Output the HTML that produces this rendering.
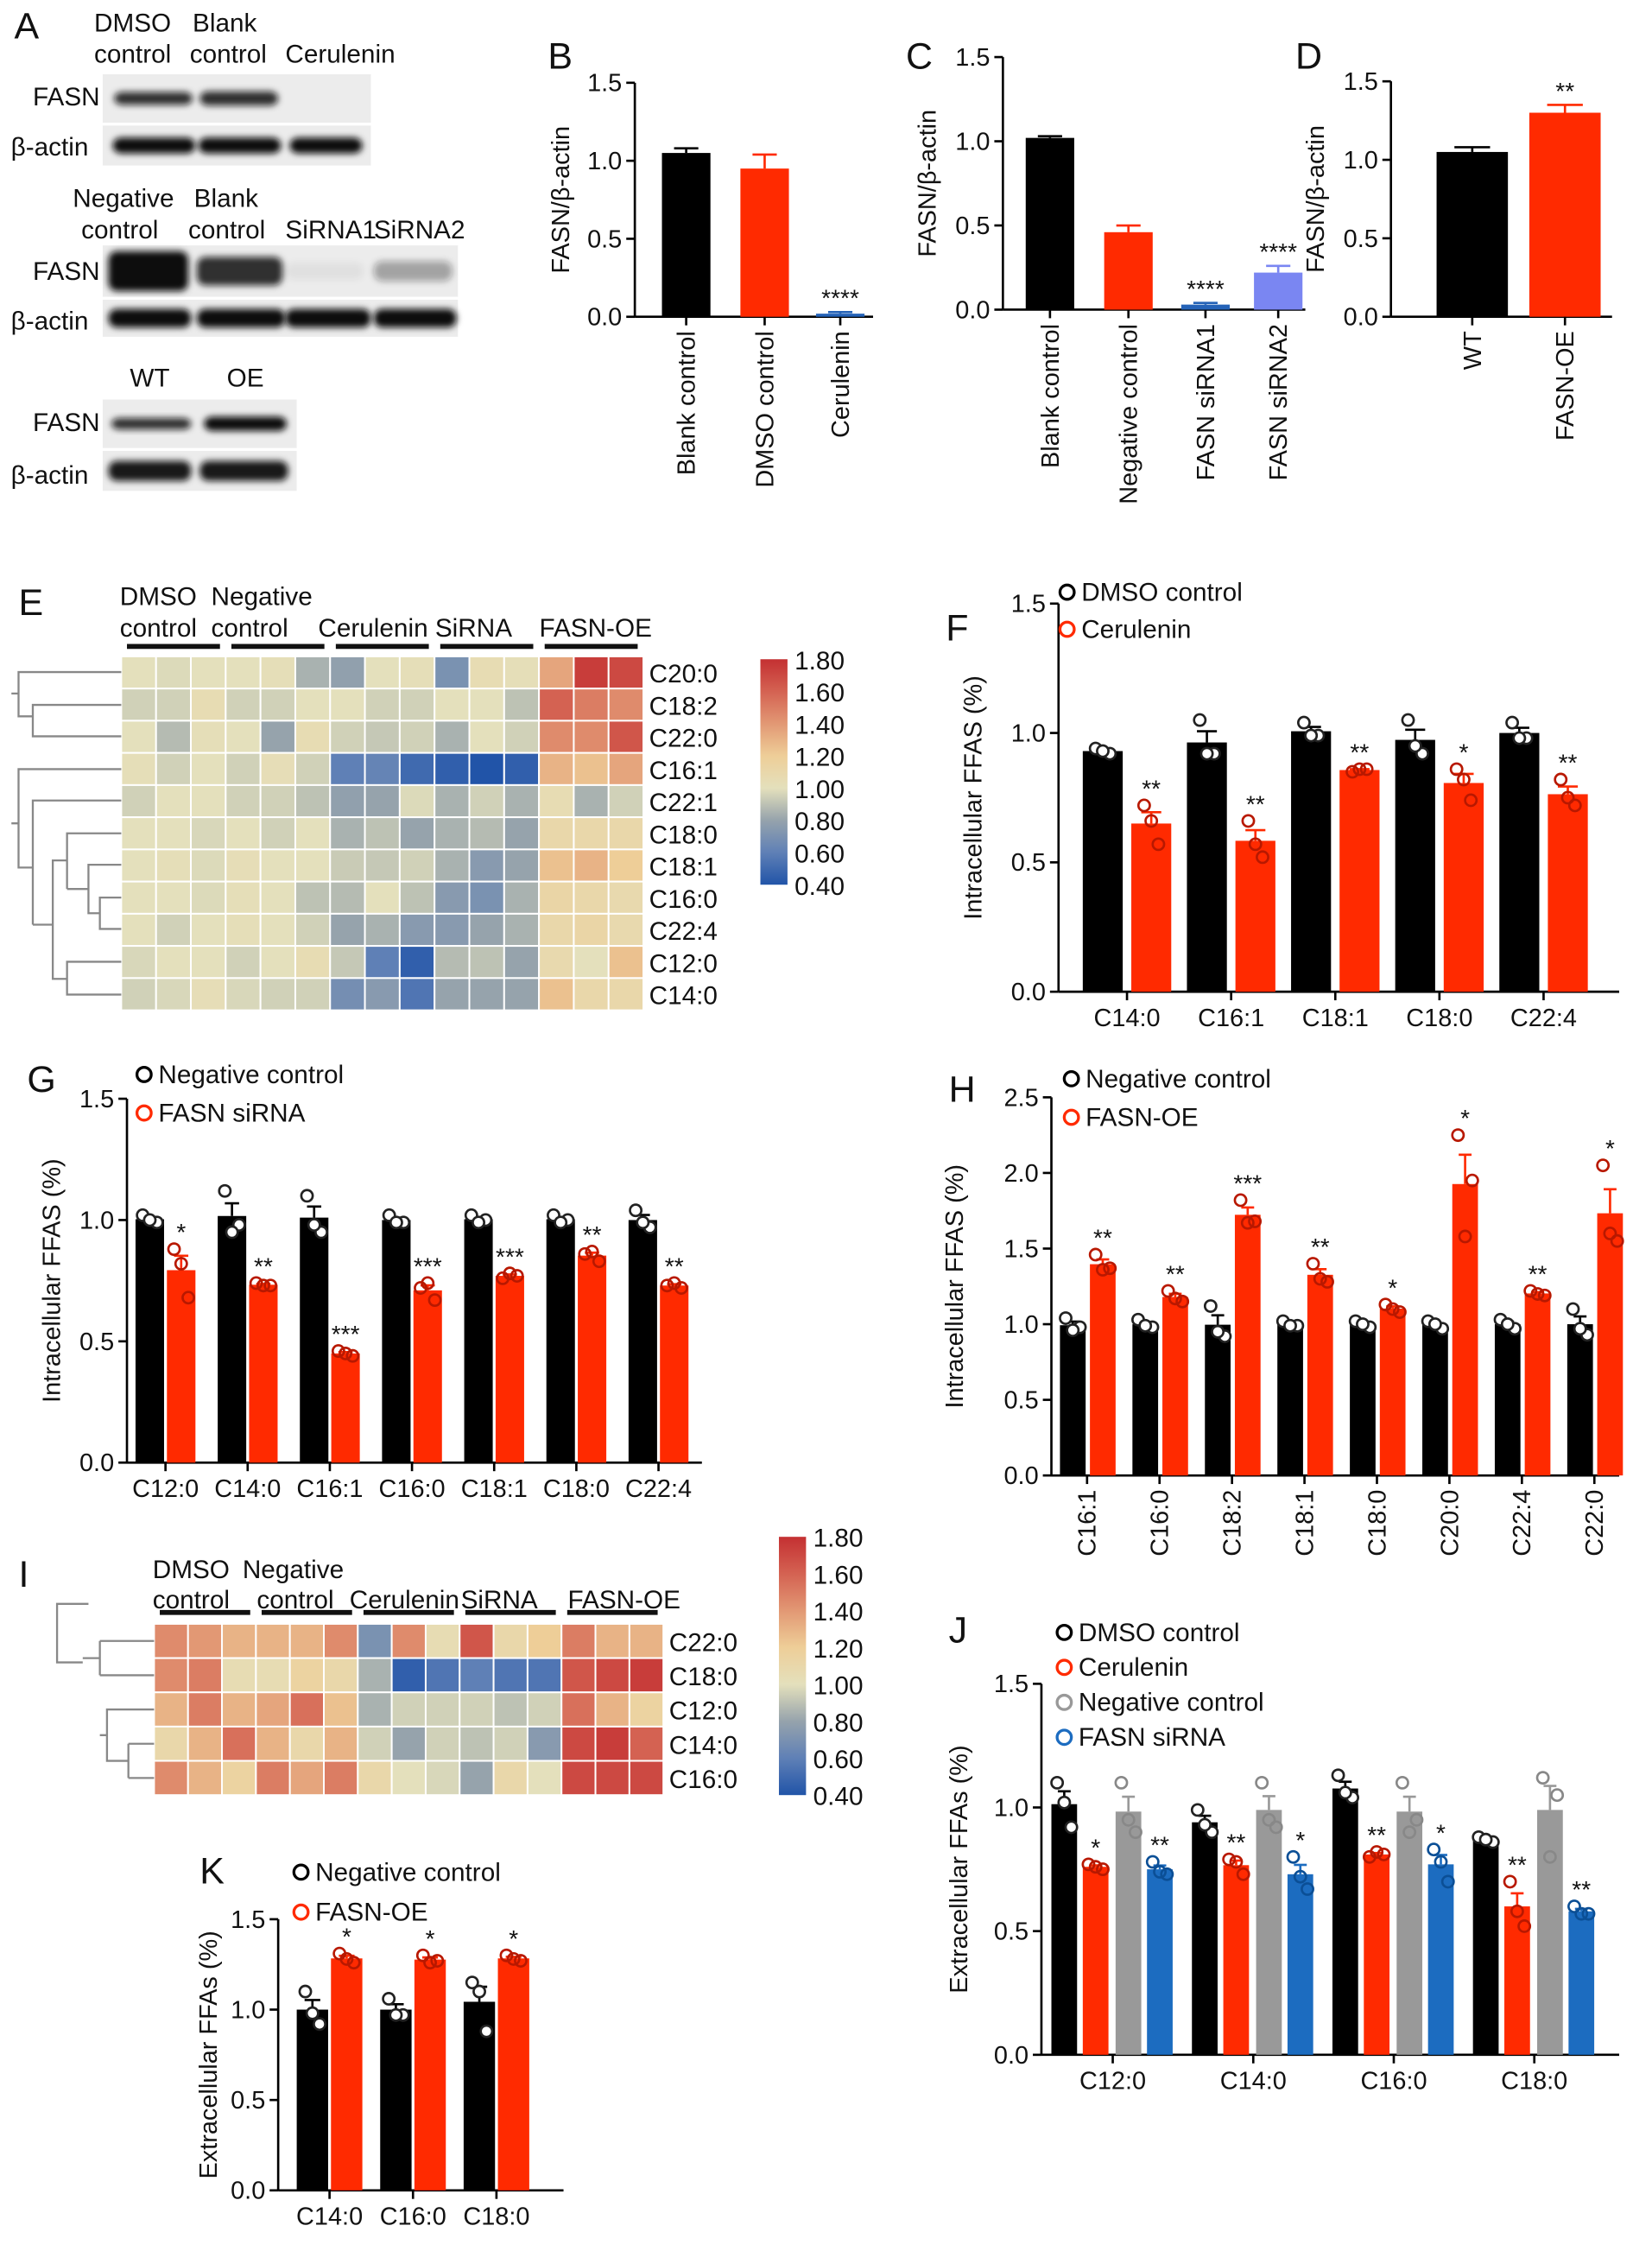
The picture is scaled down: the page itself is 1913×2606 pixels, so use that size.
<!DOCTYPE html>
<html><head><meta charset="utf-8"><style>
html,body{margin:0;padding:0;background:#fff;}
svg{display:block;font-family:"Liberation Sans",Arial,sans-serif;}
</style></head><body>
<svg id="fig" xmlns="http://www.w3.org/2000/svg" width="1913" height="2606" viewBox="0 0 1158 1577.5" preserveAspectRatio="none">
<defs><filter id="blur" x="-20%" y="-50%" width="140%" height="200%"><feGaussianBlur stdDeviation="2.2"/></filter></defs>
</svg>
<script>
// ---------- data ----------
const bCats = ["Blank control","DMSO control","Cerulenin"];
const bVals = [1.05,0.95,0.02];
const bErrs = [0.03,0.09,0.01];
const cCats = ["Blank control","Negative control","FASN siRNA1","FASN siRNA2"];
const cVals = [1.02,0.46,0.03,0.22];
const cErrs = [0.01,0.04,0.01,0.04];
const dCats = ["WT","FASN-OE"];
const dVals = [1.05,1.30];
const dErrs = [0.03,0.05];

const eRows = ["C20:0","C18:2","C22:0","C16:1","C22:1","C18:0","C18:1","C16:0","C22:4","C12:0","C14:0"];
const eData = [
[1.0,0.98,1.0,1.0,1.02,0.85,0.78,1.0,1.02,0.7,1.05,1.02,1.35,1.75,1.7],
[0.95,0.95,1.05,0.95,0.95,1.0,1.0,0.95,0.95,1.0,1.0,0.9,1.6,1.5,1.45],
[1.0,0.88,1.02,1.0,0.8,1.05,0.95,0.92,0.95,0.85,1.0,0.95,1.45,1.45,1.65],
[1.02,0.95,1.0,0.95,1.03,0.95,0.6,0.62,0.5,0.45,0.4,0.45,1.3,1.25,1.35],
[0.95,1.0,1.0,0.95,0.95,0.9,0.78,0.8,0.98,0.85,0.95,0.85,1.05,0.85,0.95],
[1.0,1.0,0.97,1.0,0.95,1.0,0.85,0.9,0.8,0.85,0.88,0.8,1.1,1.1,1.1],
[1.0,1.02,0.98,1.03,1.0,1.0,0.93,0.92,0.95,0.85,0.75,0.8,1.25,1.3,1.2],
[1.0,1.0,0.98,1.02,1.0,0.9,0.88,1.0,0.9,0.75,0.7,0.85,1.12,1.1,1.08],
[1.0,0.95,1.0,1.02,1.0,0.95,0.8,0.85,0.75,0.75,0.8,0.85,1.1,1.12,1.08],
[0.97,1.0,1.0,0.95,1.0,1.05,0.92,0.6,0.45,0.88,0.9,0.8,1.08,1.0,1.25],
[0.95,0.97,1.03,0.97,0.95,0.95,0.68,0.75,0.55,0.8,0.8,0.8,1.25,1.1,1.1]];
const iRows = ["C22:0","C18:0","C12:0","C14:0","C16:0"];
const iData = [
[1.45,1.4,1.3,1.3,1.3,1.45,0.7,1.45,1.05,1.65,1.1,1.2,1.5,1.3,1.3],
[1.45,1.5,1.05,1.05,1.15,1.1,0.85,0.45,0.55,0.6,0.55,0.55,1.65,1.7,1.75],
[1.3,1.5,1.3,1.35,1.55,1.25,0.85,0.95,0.95,0.95,0.9,0.95,1.55,1.3,1.15],
[1.1,1.3,1.55,1.3,1.1,1.3,0.95,0.8,0.95,0.9,0.95,0.75,1.7,1.75,1.6],
[1.45,1.3,1.15,1.5,1.35,1.5,1.1,1.0,0.97,0.8,1.1,1.0,1.7,1.7,1.7]];
const cbTicks = ["1.80","1.60","1.40","1.20","1.00","0.80","0.60","0.40"];

const fCats = ["C14:0","C16:1","C18:1","C18:0","C22:4"];
const fBlack = [[0.94,0.92,0.93],[1.05,0.92,0.92],[1.04,0.99,0.99],[1.05,0.92,0.95],[1.04,0.98,0.98]];
const fRed = [[0.72,0.57,0.66],[0.66,0.52,0.57],[0.85,0.86,0.86],[0.86,0.74,0.82],[0.82,0.72,0.75]];
const fStars = ["**","**","**","*","**"];
const gCats = ["C12:0","C14:0","C16:1","C16:0","C18:1","C18:0","C22:4"];
const gBlack = [[1.02,0.99,1.0],[1.12,0.98,0.95],[1.1,0.95,0.98],[1.02,0.99,0.99],[1.02,1.0,0.99],[1.02,1.0,0.99],[1.04,0.97,0.99]];
const gRed = [[0.88,0.68,0.82],[0.74,0.73,0.73],[0.46,0.44,0.45],[0.72,0.67,0.74],[0.76,0.77,0.78],[0.86,0.83,0.87],[0.73,0.72,0.74]];
const gStars = ["*","**","***","***","***","**","**"];
const hCats = ["C16:1","C16:0","C18:2","C18:1","C18:0","C20:0","C22:4","C22:0"];
const hBlack = [[1.04,0.98,0.96],[1.03,0.98,0.99],[1.12,0.92,0.95],[1.02,0.99,0.99],[1.02,0.98,1.0],[1.02,0.97,1.0],[1.03,0.97,1.0],[1.1,0.93,0.97]];
const hRed = [[1.46,1.37,1.36],[1.22,1.15,1.17],[1.82,1.68,1.67],[1.4,1.28,1.3],[1.13,1.08,1.1],[2.25,1.95,1.58],[1.22,1.19,1.2],[2.05,1.55,1.6]];
const hStars = ["**","**","***","**","*","*","**","*"];
const jCats = ["C12:0","C14:0","C16:0","C18:0"];
const jBlack = [[1.1,0.92,1.02],[0.99,0.9,0.93],[1.13,1.04,1.06],[0.88,0.86,0.87]];
const jRed = [[0.77,0.75,0.76],[0.79,0.73,0.78],[0.8,0.81,0.82],[0.7,0.52,0.58]];
const jGray = [[1.1,0.9,0.95],[1.1,0.92,0.95],[1.1,0.95,0.9],[1.12,1.05,0.8]];
const jBlue = [[0.78,0.73,0.74],[0.8,0.67,0.72],[0.83,0.7,0.78],[0.6,0.57,0.57]];
const jRedStars = ["*","**","**","**"];
const jBlueStars = ["**","*","*","**"];
const kCats = ["C14:0","C16:0","C18:0"];
const kBlack = [[1.1,0.92,0.98],[1.06,0.97,0.97],[1.15,0.88,1.1]];
const kRed = [[1.31,1.26,1.28],[1.3,1.27,1.26],[1.3,1.27,1.28]];
const kStars = ["*","*","*"];

// ---------- helpers ----------
const NS="http://www.w3.org/2000/svg";
const svg=document.getElementById('fig');
function mk(tag,attrs,name,parent){
  const el=document.createElementNS(NS,tag);
  for(const k in attrs) el.setAttribute(k,attrs[k]);
  
  
  (parent||svg).appendChild(el);return el;
}
function T(x,y,s,size,name,extra){
  const a=Object.assign({x:x,y:y,'font-size':size,fill:'#111'},extra||{});
  const t=mk('text',a,name);t.textContent=s;return t;
}
function L(x1,y1,x2,y2,name,col,w){return mk('line',{x1,y1,x2,y2,stroke:col||'#000','stroke-width':w||1.6},name);}
const mean=a=>a.reduce((s,v)=>s+v,0)/a.length;
const sem=a=>{const m=mean(a);return Math.sqrt(a.reduce((s,v)=>s+(v-m)*(v-m),0)/(a.length-1))/Math.sqrt(a.length);};

function axisY(x0,y0,yTop,vmax,ticks,fmt,title,titleX,pfx){
  const ys=v=>y0-v/vmax*(y0-yTop);
  L(x0,yTop,x0,y0,pfx+'-y-axis');
  ticks.forEach(v=>{L(x0-6,ys(v),x0,ys(v),pfx+'-y-tick');
    T(x0-9,ys(v)+6,v.toFixed(fmt),17.5,pfx+'-y-tick-label',{'text-anchor':'end'});});
  const cy=(y0+yTop)/2;
  T(titleX,cy,title,17.5,pfx+'-y-axis-title',{'text-anchor':'middle',transform:`rotate(-90 ${titleX} ${cy})`});
  return ys;
}
function xLabels(cats,centers,y0,rot,pfx){
  cats.forEach((c,i)=>{
    L(centers[i],y0,centers[i],y0+6,pfx+'-x-tick');
    if(rot) T(centers[i]+6,y0+10,c,17.5,pfx+'-x-label',{'text-anchor':'end',transform:`rotate(-90 ${centers[i]+6} ${y0+10})`});
    else T(centers[i],y0+24,c,17.5,pfx+'-x-label',{'text-anchor':'middle'});
  });
}
function bar(cx,w,v,e,ys,col,name){
  mk('rect',{x:cx-w/2,y:ys(v),width:w,height:ys(0)-ys(v),fill:col},name);
  L(cx,ys(v),cx,ys(v+e),name+'-error',col,1.6);
  L(cx-w/4,ys(v+e),cx+w/4,ys(v+e),name+'-error-cap',col,1.6);
}
function points(cx,pts,ys,col,name){
  const off=[-5,5,0];
  pts.forEach((v,k)=>mk('circle',{cx:cx+off[k],cy:ys(v),r:4,fill:col==='#000'?'#fff':'none',stroke:col==='#000'?'#222':(col==='#ff2a00'?'#b81800':col==='#999'?'#888':'#0b4f96'),'stroke-width':1.6},name));
}
function groupChart(cfg){
  const ys=axisY(cfg.x0,cfg.y0,cfg.yTop,cfg.vmax,cfg.ticks,1,cfg.title,cfg.titleX,cfg.p);
  L(cfg.x0,cfg.y0,cfg.xEnd,cfg.y0,cfg.p+'-x-axis');
  const centers=cfg.cats.map((c,i)=>cfg.gx0+i*cfg.gw);
  cfg.series.forEach(s=>{
    s.pts.forEach((p,i)=>{
      const cx=centers[i]+s.off,m=mean(p),e=sem(p);
      bar(cx,cfg.bw,m,e,ys,s.col,cfg.p+'-bar-'+s.key);
      points(cx,p,ys,s.col,cfg.p+'-point-'+s.key);
      if(s.stars) T(cx,ys(Math.max(m+e,Math.max(...p)))-6,s.stars[i],17,cfg.p+'-significance',{'text-anchor':'middle'});
    });
  });
  xLabels(cfg.cats,centers,cfg.y0,cfg.rot,cfg.p);
  (cfg.legend||[]).forEach((lg,i)=>{
    mk('circle',{cx:cfg.lx,cy:cfg.ly+i*cfg.lstep-6,r:5,fill:'none',stroke:lg[1],'stroke-width':2},cfg.p+'-legend-marker');
    T(cfg.lx+10,cfg.ly+i*cfg.lstep,lg[0],18,cfg.p+'-legend-label');
  });
}
function simpleChart(cfg){
  const ys=axisY(cfg.x0,cfg.y0,cfg.yTop,cfg.vmax,[0,0.5,1,1.5],1,cfg.title,cfg.titleX,cfg.p);
  L(cfg.x0,cfg.y0,cfg.xEnd,cfg.y0,cfg.p+'-x-axis');
  cfg.vals.forEach((v,i)=>{bar(cfg.centers[i],cfg.bw,v,cfg.errs[i],ys,cfg.cols[i],cfg.p+'-bar');
    if(cfg.stars[i]) T(cfg.centers[i],ys(v+cfg.errs[i])-4,cfg.stars[i],17,cfg.p+'-significance',{'text-anchor':'middle'});});
  xLabels(cfg.cats,cfg.centers,cfg.y0,true,cfg.p);
}
// colormap
const cmStops=[[0.4,[33,84,168]],[0.6,[95,128,182]],[0.8,[150,163,172]],[1.0,[228,224,188]],[1.2,[238,206,152]],[1.4,[226,152,116]],[1.6,[212,98,82]],[1.8,[196,48,50]]];
function cmap(v){v=Math.max(0.4,Math.min(1.8,v));for(let i=0;i<cmStops.length-1;i++){const a=cmStops[i],b=cmStops[i+1];if(v<=b[0]){const t=(v-a[0])/(b[0]-a[0]);return 'rgb('+a[1].map((c,k)=>Math.round(c+(b[1][k]-c)*t)).join(',')+')';}}return 'rgb(196,48,50)';}
function heatmap(cfg){
  const cw=(cfg.x1-cfg.x0)/15,rh=(cfg.y1-cfg.y0)/cfg.rows.length;
  cfg.data.forEach((row,r)=>row.forEach((v,c)=>mk('rect',{x:cfg.x0+c*cw,y:cfg.y0+r*rh,width:cw,height:rh,fill:cmap(v),stroke:'#fff','stroke-width':1.2},cfg.p+'-cell')));
  cfg.rows.forEach((n,r)=>T(cfg.x1+4,cfg.y0+(r+0.5)*rh+7,n,18,cfg.p+'-row-label'));
  for(let g=0;g<5;g++) L(cfg.x0+g*3*cw+4,cfg.ly,cfg.x0+(g+1)*3*cw-4,cfg.ly,cfg.p+'-group-bracket','#111',3.5);
  const cbH=cfg.cb1-cfg.cb0;
  const gid=cfg.p+'grad';const lg=mk('linearGradient',{id:gid,x1:0,y1:1,x2:0,y2:0},cfg.p+'-gradient',svg.querySelector('defs'));
  cmStops.forEach(s=>mk('stop',{offset:((s[0]-0.4)/1.4),'stop-color':cmap(s[0])},cfg.p+'-gradient-stop',lg));
  mk('rect',{x:cfg.cbx,y:cfg.cb0,width:19,height:cbH,fill:`url(#${gid})`},cfg.p+'-colorbar');
  cbTicks.forEach((t,i)=>T(cfg.cbx+24,cfg.cb0+i*cbH/7+7,t,18,cfg.p+'-colorbar-label'));
  const o=cfg.hoff;
  T(cfg.x0-1,cfg.hy1,'DMSO',18,cfg.p+'-group-label');T(cfg.x0+o[0],cfg.hy1,'Negative',18,cfg.p+'-group-label');
  T(cfg.x0-1,cfg.hy2,'control',18,cfg.p+'-group-label');T(cfg.x0+o[1],cfg.hy2,'control',18,cfg.p+'-group-label');
  T(cfg.x0+o[2],cfg.hy2,'Cerulenin',18,cfg.p+'-group-label');T(cfg.x0+o[3],cfg.hy2,'SiRNA',18,cfg.p+'-group-label');
  T(cfg.x0+o[4],cfg.hy2,'FASN-OE',18,cfg.p+'-group-label');
  mk('path',{d:cfg.dendro,fill:'none',stroke:'#888','stroke-width':1.4},cfg.p+'-dendrogram');
}

// ---------- Panel A (western blots) ----------
T(10,27,'A',26,'panel-label-a');
function blot(x,y,w,h,bands,name){
  mk('rect',{x,y,width:w,height:h,fill:'#ececec'},name+'-membrane');
  bands.forEach(b=>mk('rect',{x:b[0],y:y+h/2-b[2]/2,width:b[1],height:b[2],rx:6,fill:'#111','fill-opacity':b[3],filter:'url(#blur)'},name+'-band'));
}
const RL={'text-anchor':'end'};
T(66,22,'DMSO',18,'blot-label');T(135,22,'Blank',18,'blot-label');
T(66,44,'control',18,'blot-label');T(133,44,'control',18,'blot-label');T(200,44,'Cerulenin',18,'blot-label');
T(70,74,'FASN',18,'blot-row-label',RL);T(62,109,'β-actin',18,'blot-row-label',RL);
blot(72,52,188,34,[[80,55,9,0.85],[140,55,10,0.85]],'blot-1-fasn');
blot(72,88,188,28,[[79,58,11,1],[139,58,11,1],[203,51,11,1]],'blot-1-actin');
T(51,145,'Negative',18,'blot-label');T(136,145,'Blank',18,'blot-label');
T(57,167,'control',18,'blot-label');T(132,167,'control',18,'blot-label');T(200,167,'SiRNA1',18,'blot-label');T(262,167,'SiRNA2',18,'blot-label');
T(70,196,'FASN',18,'blot-row-label',RL);T(62,231,'β-actin',18,'blot-row-label',RL);
blot(72,172,249,36,[[76,56,28,1],[138,60,20,0.85],[200,55,12,0.05],[262,55,14,0.35]],'blot-2-fasn');
blot(72,210,249,26,[[76,58,13,1],[138,62,13,1],[200,60,13,1],[262,58,13,1]],'blot-2-actin');
T(91,271,'WT',18,'blot-label');T(159,271,'OE',18,'blot-label');
T(70,302,'FASN',18,'blot-row-label',RL);T(62,339,'β-actin',18,'blot-row-label',RL);
blot(72,280,136,34,[[78,56,8,0.85],[143,58,10,1]],'blot-3-fasn');
blot(72,316,136,28,[[76,58,14,0.95],[140,62,14,0.95]],'blot-3-actin');

// ---------- Panels B, C, D ----------
T(384,48,'B',26,'panel-label-b');
simpleChart({p:'b',x0:445,y0:222,yTop:58,vmax:1.5,xEnd:612,centers:[481,536,589],bw:34,vals:bVals,errs:bErrs,cols:['#000','#ff2a00','#2563b8'],stars:['','','****'],cats:bCats,title:'FASN/β-actin',titleX:399});
T(635,48,'C',26,'panel-label-c');
simpleChart({p:'c',x0:703,y0:217,yTop:40,vmax:1.5,xEnd:915,centers:[736,791,845,896],bw:34,vals:cVals,errs:cErrs,cols:['#000','#ff2a00','#2563b8','#7a86f2'],stars:['','','****','****'],cats:cCats,title:'FASN/β-actin',titleX:656});
T(908,48,'D',26,'panel-label-d');
simpleChart({p:'d',x0:975,y0:222,yTop:57,vmax:1.5,xEnd:1130,centers:[1032,1097],bw:50,vals:dVals,errs:dErrs,cols:['#000','#ff2a00'],stars:['','**'],cats:dCats,title:'FASN/β-actin',titleX:928});

// ---------- Heatmap E ----------
T(13,431,'E',26,'panel-label-e');
heatmap({p:'e',x0:85,x1:451,y0:460,y1:708,rows:eRows,data:eData,ly:453,hy1:424,hy2:446,cbx:533,cb0:462,cb1:620,hoff:[63,63,138,220,293],
 dendro:'M85,471 H13 V502 H23 M85,494 H23 V516 H85 M13,486 H8 M85,539 H13 V608 H23 M13,577 H8 M85,561 H23 V648 M85,584 H47 V623 M85,606 H62 V640 H70 M85,629 H70 V651 H85 M62,623 H47 M47,603 H37 V686 H47 M85,674 H47 V697 H85 M37,648 H23'});

// ---------- Panel F ----------
T(663,449,'F',26,'panel-label-f');
groupChart({p:'f',x0:742,y0:695,yTop:423,vmax:1.5,ticks:[0,0.5,1,1.5],xEnd:1135,title:'Intracellular FFAS (%)',titleX:688,
 cats:fCats,gx0:790,gw:73,bw:28,rot:false,series:[{key:'dmso',pts:fBlack,col:'#000',off:-17},{key:'cerulenin',pts:fRed,col:'#ff2a00',off:17,stars:fStars}],
 legend:[['DMSO control','#000'],['Cerulenin','#ff2a00']],lx:748,ly:421,lstep:26});

// ---------- Panel G ----------
T(19,765,'G',26,'panel-label-g');
groupChart({p:'g',x0:89,y0:1025,yTop:770,vmax:1.5,ticks:[0,0.5,1,1.5],xEnd:492,title:'Intracellular FFAS (%)',titleX:42,
 cats:gCats,gx0:116,gw:57.6,bw:20,rot:false,series:[{key:'negative',pts:gBlack,col:'#000',off:-11},{key:'sirna',pts:gRed,col:'#ff2a00',off:11,stars:gStars}],
 legend:[['Negative control','#000'],['FASN siRNA','#ff2a00']],lx:101,ly:759,lstep:27});

// ---------- Panel H ----------
T(665,772,'H',26,'panel-label-h');
groupChart({p:'h',x0:737,y0:1034,yTop:769,vmax:2.5,ticks:[0,0.5,1,1.5,2,2.5],xEnd:1135,title:'Intracellular FFAS (%)',titleX:675,
 cats:hCats,gx0:762,gw:50.8,bw:18,rot:true,series:[{key:'negative',pts:hBlack,col:'#000',off:-10},{key:'oe',pts:hRed,col:'#ff2a00',off:11,stars:hStars}],
 legend:[['Negative control','#000'],['FASN-OE','#ff2a00']],lx:751,ly:762,lstep:27});

// ---------- Heatmap I ----------
T(13,1112,'I',26,'panel-label-i');
heatmap({p:'i',x0:108,x1:465,y0:1138,y1:1258,rows:iRows,data:iData,ly:1130,hy1:1106,hy2:1127,cbx:546,cb0:1077,cb1:1258,hoff:[62,72,137,215,290],
 dendro:'M62,1124 H40 V1165 H58 M58,1162 H70 M70,1150 V1174 M108,1150 H70 M108,1174 H70 M108,1198 H75 V1234 H90 M90,1222 V1246 M108,1222 H90 M108,1246 H90 M75,1216 H70'});

// ---------- Panel J ----------
T(665,1151,'J',26,'panel-label-j');
groupChart({p:'j',x0:730,y0:1440,yTop:1180,vmax:1.5,ticks:[0,0.5,1,1.5],xEnd:1135,title:'Extracellular FFAs (%)',titleX:678,
 cats:jCats,gx0:780,gw:98.5,bw:18,rot:false,series:[{key:'dmso',pts:jBlack,col:'#000',off:-34},{key:'cerulenin',pts:jRed,col:'#ff2a00',off:-12,stars:jRedStars},{key:'negative',pts:jGray,col:'#999',off:11},{key:'sirna',pts:jBlue,col:'#1c6cc0',off:33,stars:jBlueStars}],
 legend:[['DMSO control','#000'],['Cerulenin','#ff2a00'],['Negative control','#999'],['FASN siRNA','#1c6cc0']],lx:746,ly:1150,lstep:24.5});

// ---------- Panel K ----------
T(140,1320,'K',26,'panel-label-k');
groupChart({p:'k',x0:195,y0:1535,yTop:1345,vmax:1.5,ticks:[0,0.5,1,1.5],xEnd:395,title:'Extracellular FFAs (%)',titleX:152,
 cats:kCats,gx0:231,gw:58.5,bw:22,rot:false,series:[{key:'negative',pts:kBlack,col:'#000',off:-12},{key:'oe',pts:kRed,col:'#ff2a00',off:12,stars:kStars}],
 legend:[['Negative control','#000'],['FASN-OE','#ff2a00']],lx:211,ly:1318,lstep:28});
</script>
</body></html>
